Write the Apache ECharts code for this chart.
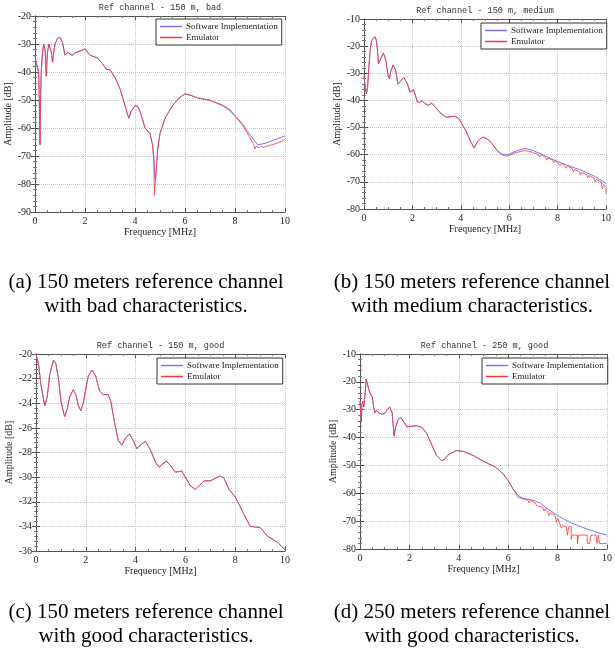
<!DOCTYPE html>
<html>
<head>
<meta charset="utf-8">
<script src="https://cdn.jsdelivr.net/npm/echarts@6/dist/echarts.min.js"></script>
<style>
  html, body { margin: 0; padding: 0; background: #fff; }
  #main { width: 615px; height: 652px; }
</style>
</head>
<body>
<div id="main"></div>
<script>
// 曲线数据（频率 MHz, 幅度 dB）
var aHead = [[0,-34],[0.05,-37],[0.1,-38],[0.15,-41],[0.18,-55],[0.2,-66],[0.22,-50],[0.25,-40],[0.3,-33],[0.35,-30],[0.4,-32],[0.43,-36],[0.45,-41.5],[0.48,-36],[0.5,-33],[0.55,-30],[0.6,-31.5],[0.65,-33],[0.7,-36.5],[0.75,-33],[0.8,-30],[0.9,-28],[1.0,-27.6],[1.1,-29.5],[1.2,-34],[1.3,-33],[1.4,-33.6],[1.5,-34],[1.6,-33.2],[1.8,-32.5],[2.0,-31.8],[2.2,-34],[2.5,-35],[2.7,-37],[2.85,-39],[3.0,-39.2],[3.2,-42],[3.4,-46],[3.6,-52],[3.75,-56.5],[3.85,-54],[4.0,-52],[4.1,-52.2],[4.2,-54],[4.4,-60],[4.6,-62],[4.7,-66]];
var aSoftTail = [[4.75,-70],[4.8,-78],[4.85,-75],[4.9,-68],[5.0,-62],[5.2,-56.5],[5.5,-52],[5.8,-49],[6.0,-47.8],[6.2,-48.2],[6.5,-49.2],[7.0,-50],[7.5,-51.8],[7.8,-53.5],[8.0,-55.5],[8.3,-58.5],[8.6,-62.5],[8.9,-66],[9.2,-65.5],[9.5,-64.5],[10,-62.8]];
var aEmuTail = [[4.75,-72],[4.78,-84],[4.8,-80],[4.85,-76],[4.9,-68],[5.0,-62],[5.2,-56.5],[5.5,-52],[5.8,-49],[6.0,-47.8],[6.2,-48.3],[6.5,-49.3],[7.0,-50.2],[7.5,-52],[7.8,-53.8],[8.0,-55.8],[8.3,-59],[8.6,-63.5],[8.75,-66],[8.8,-67.5],[8.85,-66.5],[8.95,-67],[9.0,-67.5],[9.05,-66.5],[9.15,-67],[9.2,-67.5],[9.25,-66.5],[9.35,-66.3],[9.4,-67],[9.45,-66],[9.55,-65.8],[9.6,-66.5],[9.65,-65.5],[9.8,-65],[9.85,-65.7],[9.9,-64.6],[10,-64]];

var bHead = [[0,-31],[0.05,-35],[0.1,-37.5],[0.15,-35],[0.2,-28],[0.25,-22],[0.3,-18.5],[0.35,-17.5],[0.45,-16.5],[0.5,-17.5],[0.55,-21],[0.6,-26.5],[0.65,-26],[0.7,-24.5],[0.8,-22.5],[0.9,-25],[1.0,-31],[1.05,-32],[1.1,-29.5],[1.2,-27],[1.3,-28.5],[1.4,-34],[1.5,-33],[1.65,-31.5],[1.8,-34],[1.9,-37],[1.95,-36.5],[2.05,-36],[2.12,-38],[2.2,-40.5],[2.3,-40.8],[2.4,-40],[2.5,-41],[2.65,-41.8],[2.8,-41],[3.0,-43],[3.2,-45],[3.4,-46.2],[3.6,-46],[3.75,-45.8],[3.9,-46.5],[4.0,-48],[4.2,-51],[4.4,-55],[4.55,-57.5],[4.7,-55],[4.85,-53.8],[4.95,-53.6],[5.1,-54.2],[5.3,-56],[5.5,-58.5]];
var bSoftTail = [[5.7,-59.8],[5.85,-60],[6.0,-59.8],[6.2,-59],[6.5,-58],[6.7,-57.7],[7.0,-58.5],[7.5,-60.5],[8.0,-62.5],[8.5,-64.2],[9.0,-65.8],[9.5,-67.8],[10,-70.5]];
var bEmuTail = [[5.7,-60],[5.85,-60.5],[6.0,-60.3],[6.2,-59.5],[6.5,-58.7],[6.7,-58.5],[7.0,-59.2],[7.2,-60],[7.25,-60.8],[7.3,-60],[7.5,-61],[7.55,-62],[7.6,-61.2],[7.8,-62],[7.85,-63],[7.9,-62.2],[8.0,-63],[8.1,-64],[8.15,-63.2],[8.3,-64],[8.35,-65],[8.4,-64.2],[8.6,-65],[8.65,-66.3],[8.7,-65.5],[8.9,-66.3],[8.95,-67.5],[9.0,-66.6],[9.2,-67.3],[9.25,-68.5],[9.3,-67.7],[9.5,-68.5],[9.55,-70],[9.6,-69],[9.8,-70],[9.85,-72.5],[9.9,-71],[10,-72],[10,-74.5]];

var cCurve = [[0,-20],[0.1,-20.8],[0.2,-22.5],[0.35,-24.2],[0.45,-23.5],[0.55,-21.7],[0.7,-20.5],[0.8,-20.8],[0.9,-22],[1.0,-23.8],[1.15,-25.1],[1.25,-24.5],[1.35,-23.5],[1.5,-22.9],[1.6,-23.3],[1.7,-24.2],[1.8,-24.6],[1.9,-24],[2.0,-22.8],[2.1,-21.8],[2.25,-21.3],[2.4,-21.8],[2.55,-23],[2.7,-23.3],[2.9,-23.3],[3.0,-23.8],[3.15,-25.5],[3.3,-27],[3.45,-27.4],[3.6,-26.8],[3.75,-26.5],[3.9,-27],[4.05,-27.7],[4.25,-27.3],[4.4,-27.1],[4.6,-27.8],[4.8,-28.8],[4.95,-29.2],[5.1,-28.9],[5.25,-28.7],[5.45,-29.2],[5.6,-29.6],[5.85,-29.5],[6.0,-30],[6.2,-30.7],[6.4,-31],[6.55,-30.7],[6.75,-30.3],[7.0,-30.3],[7.2,-30.1],[7.4,-29.9],[7.55,-30.1],[7.75,-31],[8.0,-31.6],[8.3,-32.8],[8.6,-34],[9.0,-34.1],[9.3,-34.8],[9.7,-35.3],[10,-35.9]];

var dHead = [[0,-27],[0.03,-32],[0.05,-34.5],[0.08,-28],[0.12,-27],[0.15,-29],[0.2,-25],[0.25,-19],[0.3,-19.5],[0.35,-22.5],[0.4,-24],[0.45,-24.5],[0.5,-25.5],[0.55,-29],[0.6,-31],[0.65,-30.2],[0.75,-31],[0.9,-31.6],[1.0,-31.3],[1.1,-30],[1.2,-29],[1.3,-31],[1.38,-39.5],[1.45,-36],[1.55,-33.5],[1.65,-32.8],[1.75,-34],[1.9,-36.2],[2.0,-36],[2.3,-35.8],[2.5,-36.3],[2.7,-38.5],[2.9,-42.5],[3.1,-46.5],[3.3,-48.2],[3.4,-48],[3.6,-46],[3.9,-44.7],[4.2,-45],[4.6,-46.5],[5.0,-48.5],[5.5,-50.7],[5.8,-53],[6.0,-55.5],[6.2,-58.5]];
var dSoftTail = [[6.4,-60.8],[6.6,-61.8],[7.0,-62.5],[7.3,-63.5],[7.5,-65],[8.0,-68],[8.5,-70.5],[9.0,-72.2],[9.5,-73.8],[10,-75]];
var dEmuTail = [[6.4,-61.5],[6.6,-62],[6.8,-62.5],[6.85,-63.5],[6.9,-62.5],[7.1,-63.5],[7.15,-64.5],[7.2,-63.8],[7.4,-65],[7.45,-66.3],[7.5,-65.5],[7.6,-66.5],[7.65,-68],[7.7,-67],[7.9,-68],[7.95,-70.5],[8.0,-69],[8.1,-71],[8.15,-72.5],[8.2,-71.5],[8.35,-72],[8.4,-75],[8.45,-72],[8.55,-72],[8.55,-76.5],[8.6,-75],[8.8,-75],[8.8,-78],[8.85,-75],[9.2,-75],[9.2,-78],[9.3,-78],[9.35,-75],[9.55,-75],[9.6,-78],[9.65,-75],[9.7,-78],[10,-78]];

var titles = ['Ref channel - 150 m, bad', 'Ref channel - 150 m, medium', 'Ref channel - 150 m, good', 'Ref channel - 250 m, good'];
var captions = ['(a) 150 meters reference channel\nwith bad characteristics.', '(b) 150 meters reference channel\nwith medium characteristics.', '(c) 150 meters reference channel\nwith good characteristics.', '(d) 250 meters reference channel\nwith good characteristics.'];
var yRanges = [[-90, -20, 10], [-80, -10, 10], [-36, -20, 2], [-80, -10, 10]];
var seriesNames = ['Software Implementation', 'Emulator'];

var softData = [aHead.concat(aSoftTail), bHead.concat(bSoftTail), cCurve, dHead.concat(dSoftTail)];
var emuData = [aHead.concat(aEmuTail), bHead.concat(bEmuTail), cCurve, dHead.concat(dEmuTail)];

// 版面位置
var grids = [
  { left: 35, top: 16, width: 250, height: 196 },
  { left: 364, top: 19, width: 242, height: 190 },
  { left: 36, top: 354, width: 249, height: 197 },
  { left: 360, top: 354, width: 249, height: 195 }
];
var legendPos = [[156, 19], [481, 23], [157, 358], [482, 358]];
var captionPos = [[146, 270], [472, 270], [146, 600], [472, 600]];

var serif = 'Liberation Serif';
var textColor = '#222';
var blue = '#7878ff';
var red = '#ff3535';

function baseAxis(gi) {
  return {
    type: 'value',
    gridIndex: gi,
    axisLine: { show: true, lineStyle: { color: '#555', width: 1 } },
    axisTick: { inside: true, length: 4, lineStyle: { color: '#555' } },
    minorTick: { show: true, length: 2, lineStyle: { color: '#777' } },
    axisLabel: { fontFamily: serif, fontSize: 10, color: textColor, margin: 4 },
    splitLine: { show: true, lineStyle: { type: 'dotted', color: '#c4c4c4' } }
  };
}

var xAxes = [], yAxes = [], series = [], legends = [], graphics = [];
grids.forEach(function (g, i) {
  var x = baseAxis(i);
  x.min = 0; x.max = 10; x.interval = 2;
  x.minorTick.splitNumber = 4;
  x.name = 'Frequency [MHz]';
  x.nameLocation = 'middle';
  x.nameGap = 15;
  x.nameTextStyle = { fontFamily: serif, fontSize: 10, color: textColor };
  xAxes.push(x);
  // 上边框刻度
  var xt = baseAxis(i);
  xt.min = 0; xt.max = 10; xt.interval = 2; xt.position = 'top';
  xt.minorTick.splitNumber = 4;
  xt.axisLabel = { show: false }; xt.splitLine = { show: false };
  xAxes.push(xt);

  var r = yRanges[i];
  var y = baseAxis(i);
  y.min = r[0]; y.max = r[1]; y.interval = r[2];
  y.minorTick.splitNumber = 5;
  y.name = 'Amplitude [dB]';
  y.nameLocation = 'middle';
  y.nameGap = 20;
  y.nameTextStyle = { fontFamily: serif, fontSize: 10, color: textColor };
  yAxes.push(y);
  var yr = baseAxis(i);
  yr.min = r[0]; yr.max = r[1]; yr.interval = r[2]; yr.position = 'right';
  yr.minorTick.splitNumber = 5;
  yr.axisLabel = { show: false }; yr.splitLine = { show: false };
  yAxes.push(yr);

  series.push({
    name: seriesNames[0], type: 'line', xAxisIndex: i * 2, yAxisIndex: i * 2,
    data: softData[i], symbol: 'none', animation: false,
    lineStyle: { color: blue, width: 1 }, itemStyle: { color: blue }
  });
  series.push({
    name: seriesNames[1], type: 'line', xAxisIndex: i * 2, yAxisIndex: i * 2,
    data: emuData[i], symbol: 'none', animation: false,
    lineStyle: { color: red, width: 1, opacity: 0.8 }, itemStyle: { color: red }
  });

  legends.push({
    left: legendPos[i][0], top: legendPos[i][1],
    orient: 'vertical', itemGap: 2, itemWidth: 22, itemHeight: 1.5,
    icon: 'rect',
    padding: [3, 4, 3, 4], borderColor: '#333', borderWidth: 1, borderRadius: 0,
    backgroundColor: '#fff',
    textStyle: { fontFamily: serif, fontSize: 9, color: textColor, padding: [0, 0, 0, -1] },
    data: seriesNames
  });

  graphics.push({
    type: 'text', x: g.left + g.width / 2, y: g.top - 13,
    style: { text: titles[i], fontFamily: 'Liberation Mono', fontSize: 8.5, fill: '#333', textAlign: 'center' }
  });
  graphics.push({
    type: 'text', x: captionPos[i][0], y: captionPos[i][1],
    style: { text: captions[i], fontFamily: serif, fontSize: 21, lineHeight: 24, fill: '#000', textAlign: 'center' }
  });
});

var chart = echarts.init(document.getElementById('main'));
chart.setOption({
  backgroundColor: '#fff',
  animation: false,
  grid: grids,
  xAxis: xAxes,
  yAxis: yAxes,
  legend: legends,
  series: series,
  graphic: graphics
});
</script>
</body>
</html>
